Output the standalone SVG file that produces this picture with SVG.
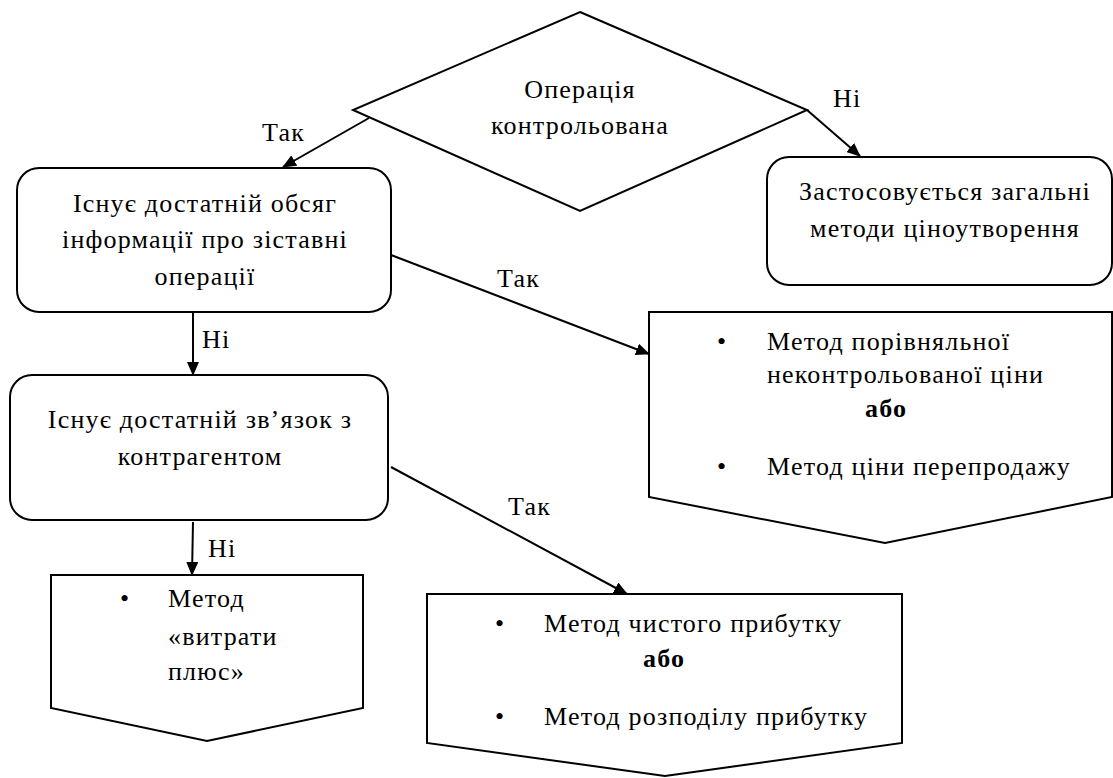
<svg xmlns="http://www.w3.org/2000/svg" width="1113" height="778" viewBox="0 0 1113 778">
<style>
.s{fill:#fff;stroke:#000;stroke-width:2;stroke-linejoin:miter}
.c{fill:none;stroke:#000;stroke-width:2}
.t{font-family:"Liberation Serif","Times New Roman",Times,serif;font-size:26px;letter-spacing:1.2px;fill:#000}
.m{text-anchor:middle}
.b{font-weight:bold}
</style>
<defs>
<marker id="ah" markerWidth="14" markerHeight="12" refX="13" refY="6" orient="auto" markerUnits="userSpaceOnUse">
<path d="M0,0 L14,6 L0,12 Z" fill="#000"/>
</marker>
</defs>
<rect width="1113" height="778" fill="#fff"/>
<g id="decision">
<polygon class="s" points="580,12 807,110 580,211 353,110"/>
<text class="t m" x="580" y="98">Операція</text>
<text class="t m" x="580" y="134">контрольована</text>
</g>
<g id="general">
<rect class="s" x="767" y="157" width="345" height="128" rx="22"/>
<text class="t m" x="945" y="200">Застосовується загальні</text>
<text class="t m" x="945" y="237">методи ціноутворення</text>
</g>
<g id="info">
<rect class="s" x="17" y="168" width="374" height="144" rx="22"/>
<text class="t m" x="205" y="212">Існує достатній обсяг</text>
<text class="t m" x="205" y="248">інформації про зіставні</text>
<text class="t m" x="205" y="285">операції</text>
</g>
<g id="comparable">
<polygon class="s" points="649,312 1112,312 1112,497 885,543 649,497"/>
<text class="t" x="717" y="350">•</text>
<text class="t" x="767" y="350">Метод порівняльної</text>
<text class="t" x="767" y="383">неконтрольованої ціни</text>
<text class="t b" x="865" y="417">або</text>
<text class="t" x="717" y="475">•</text>
<text class="t" x="767" y="475">Метод ціни перепродажу</text>
</g>
<g id="relation">
<rect class="s" x="10" y="375" width="378" height="145" rx="22"/>
<text class="t m" x="200" y="428">Існує достатній зв’язок з</text>
<text class="t m" x="200" y="465">контрагентом</text>
</g>
<g id="costplus">
<polygon class="s" points="51,575 363,575 363,708 207,741 51,708"/>
<text class="t" x="120" y="607">•</text>
<text class="t" x="168" y="607">Метод</text>
<text class="t" x="168" y="645">«витрати</text>
<text class="t" x="168" y="680">плюс»</text>
</g>
<g id="profit">
<polygon class="s" points="427,594 902,594 902,743 665,776 427,743"/>
<text class="t" x="495" y="632">•</text>
<text class="t" x="544" y="632">Метод чистого прибутку</text>
<text class="t b" x="643" y="667">або</text>
<text class="t" x="495" y="725">•</text>
<text class="t" x="544" y="725">Метод розподілу прибутку</text>
</g>
<g id="connectors">
<line class="c" x1="369" y1="118" x2="283" y2="167" marker-end="url(#ah)"/>
<text class="t" x="262" y="141">Так</text>
<line class="c" x1="807" y1="110" x2="860" y2="156" marker-end="url(#ah)"/>
<text class="t" x="833" y="107">Ні</text>
<line class="c" x1="391" y1="255" x2="649" y2="354" marker-end="url(#ah)"/>
<text class="t" x="497" y="287">Так</text>
<line class="c" x1="193" y1="312" x2="193" y2="375" marker-end="url(#ah)"/>
<text class="t" x="202" y="348">Ні</text>
<line class="c" x1="193" y1="522" x2="192" y2="575" marker-end="url(#ah)"/>
<text class="t" x="208" y="557">Ні</text>
<line class="c" x1="391" y1="467" x2="627" y2="594" marker-end="url(#ah)"/>
<text class="t" x="508" y="515">Так</text>
</g>
</svg>
